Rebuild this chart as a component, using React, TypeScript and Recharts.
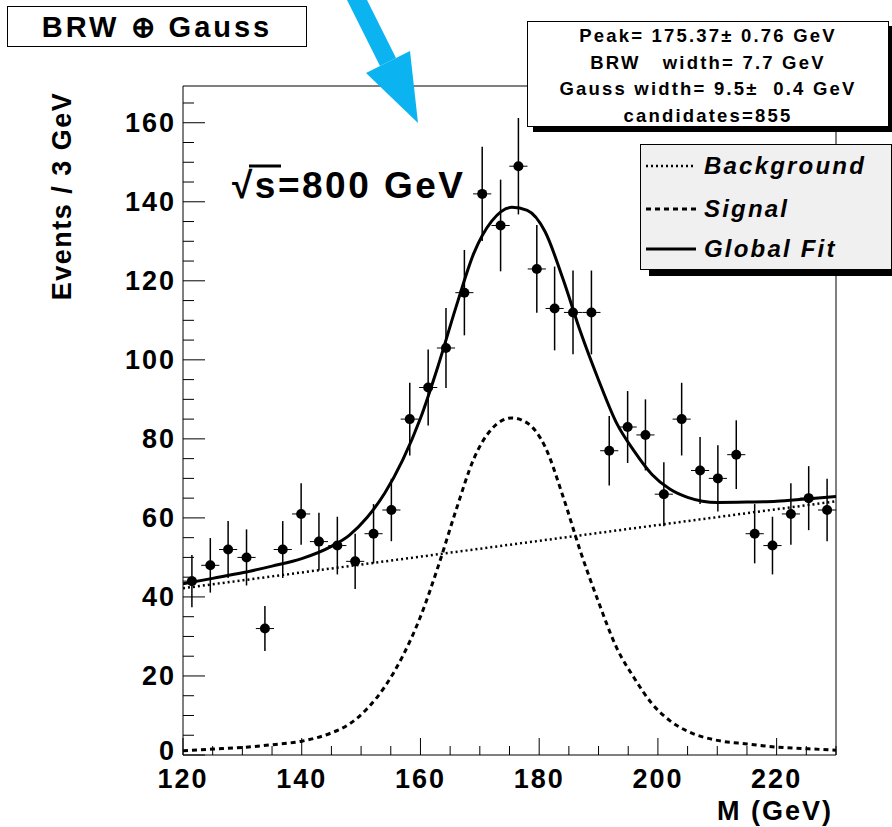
import React from "react";
import { ComposedChart, Line, Scatter, ErrorBar, XAxis, YAxis, ReferenceArea } from "recharts";

// 3 GeV-ish bins (36 bins over 120–230), centres in GeV
const MASS = [
  121.5, 124.6, 127.6, 130.7, 133.8, 136.8, 139.9, 142.9, 146.0, 149.0, 152.1, 155.1,
  158.2, 161.3, 164.3, 167.4, 170.4, 173.5, 176.5, 179.6, 182.6, 185.7, 188.8, 191.8,
  194.9, 197.9, 201.0, 204.0, 207.1, 210.1, 213.2, 216.3, 219.3, 222.4, 225.4, 228.5,
];
const COUNTS = [
  44, 48, 52, 50, 32, 52, 61, 54, 53, 49, 56, 62,
  85, 93, 103, 117, 142, 134, 149, 123, 113, 112, 112, 77,
  83, 81, 66, 85, 72, 70, 76, 56, 53, 61, 65, 62,
];
const COUNT_ERR = [
  6.6, 6.9, 7.2, 7.1, 5.7, 7.2, 7.8, 7.3, 7.3, 7.0, 7.5, 7.9,
  9.2, 9.6, 10.1, 10.8, 11.9, 11.6, 12.2, 11.1, 10.6, 10.6, 10.6, 8.8,
  9.1, 9.0, 8.1, 9.2, 8.5, 8.4, 8.7, 7.5, 7.3, 7.8, 8.1, 7.9,
];
const HALF_BIN = 1.53;

// fit curves sampled along M
const FIT_MASS = [
  120, 125, 130, 135, 140, 145, 148, 151, 154, 157, 160, 163, 166, 169, 172, 175.4,
  178, 181, 184, 187, 190, 193, 196, 199, 202, 205, 210, 215, 220, 225, 230,
];
const SIGNAL = [
  1.1, 1.5, 1.9, 2.6, 3.5, 5.6, 7.8, 11.7, 17.3, 25, 35, 47.8, 62, 75, 82.5, 85.3,
  84, 78, 65.5, 51.3, 38.7, 27.3, 19.5, 13, 8.7, 6, 3.7, 2.8, 2.0, 1.6, 1.2,
];
const GLOBAL_FIT = [
  43.3, 44.7, 46.1, 47.8, 49.7, 52.8, 55.6, 60.1, 66.3, 74.6, 85.2, 98.6, 113.4, 127, 135.1, 138.6,
  137.8, 132.4, 120.5, 106.9, 94.9, 84.1, 76.9, 71, 67.3, 65.2, 63.9, 64, 64.2, 64.8, 65.4,
];
const BKG_MASS = [120, 230];
const BKG = [42.2, 64.2];

const X_TICKS = [120, 125, 130, 135, 140, 145, 150, 155, 160, 165, 170, 175, 180, 185, 190, 195, 200, 205, 210, 215, 220, 225, 230];
const Y_TICKS = [0, 5, 10, 15, 20, 25, 30, 35, 40, 45, 50, 55, 60, 65, 70, 75, 80, 85, 90, 95, 100, 105, 110, 115, 120, 125, 130, 135, 140, 145, 150, 155, 160, 165];
const Y_MAX = 169.3;

const FONT = "'Liberation Sans', Arial, Helvetica, sans-serif";

const points = MASS.map((m, i) => ({ m, n: COUNTS[i], ey: COUNT_ERR[i], ex: HALF_BIN }));
const signalData = FIT_MASS.map((m, i) => ({ m, v: SIGNAL[i] }));
const globalData = FIT_MASS.map((m, i) => ({ m, v: GLOBAL_FIT[i] }));
const bkgData = BKG_MASS.map((m, i) => ({ m, v: BKG[i] }));

const DOTTED = "2 3";
const DASHED = "5 4";

function YTick(props: any) {
  const { x, y, payload } = props;
  const major = payload.value % 20 === 0;
  // the zero label sits a bit higher so it clears the first M label
  const ly = payload.value === 0 ? y - 4 : y;
  return (
    <g>
      <line x1={x} x2={x + (major ? 22 : 11)} y1={y} y2={y} stroke="#000" strokeWidth={1} />
      {major && (
        <text x={x - 7} y={ly} textAnchor="end" dominantBaseline="central" fontFamily={FONT} fontWeight="bold" fontSize={27} letterSpacing={2} fill="#000">
          {payload.value}
        </text>
      )}
    </g>
  );
}

function XTick(props: any) {
  const { x, y, payload } = props;
  const major = payload.value % 20 === 0;
  return (
    <g>
      <line x1={x} x2={x} y1={y} y2={y - (major ? 17 : 9)} stroke="#000" strokeWidth={1} />
      {major && (
        <text x={x} y={y + 24} textAnchor="middle" dominantBaseline="central" fontFamily={FONT} fontWeight="bold" fontSize={27} letterSpacing={2} fill="#000">
          {payload.value}
        </text>
      )}
    </g>
  );
}

function Dot(props: any) {
  return <circle cx={props.cx} cy={props.cy} r={5} fill="#000" />;
}

const legendItems = [
  { label: "Background", dash: DOTTED, width: 2.5 },
  { label: "Signal", dash: DASHED, width: 3 },
  { label: "Global Fit", dash: undefined, width: 3 },
];

export default function App() {
  return (
    <div style={{ position: "relative", width: 892, height: 827, background: "#fff", overflow: "hidden" }}>
      <style>{"body{margin:0}"}</style>
      <ComposedChart width={892} height={827} margin={{ top: 86, right: 56, bottom: 0, left: 0 }}>
        <XAxis
          dataKey="m"
          type="number"
          domain={[120, 230]}
          ticks={X_TICKS}
          interval={0}
          height={72}
          tickSize={0}
          tickMargin={0}
          tickLine={false}
          axisLine={false}
          tick={<XTick />}
          allowDataOverflow
        />
        <YAxis
          type="number"
          domain={[0, Y_MAX]}
          ticks={Y_TICKS}
          interval={0}
          width={183}
          tickSize={0}
          tickMargin={0}
          tickLine={false}
          axisLine={false}
          tick={<YTick />}
          allowDataOverflow
        />
        <ReferenceArea x1={120} x2={230} y1={0} y2={Y_MAX} fill="none" stroke="#000" strokeWidth={1} />
        <Line data={bkgData} dataKey="v" type="linear" stroke="#000" strokeWidth={2.5} strokeDasharray={DOTTED} dot={false} isAnimationActive={false} />
        <Line data={signalData} dataKey="v" type="monotone" stroke="#000" strokeWidth={3} strokeDasharray={DASHED} dot={false} isAnimationActive={false} />
        <Line data={globalData} dataKey="v" type="monotone" stroke="#000" strokeWidth={3} dot={false} isAnimationActive={false} />
        <Scatter data={points} dataKey="n" shape={<Dot />} isAnimationActive={false}>
          <ErrorBar dataKey="ey" direction="y" width={0} stroke="#000" strokeWidth={1.5} isAnimationActive={false} />
          <ErrorBar dataKey="ex" direction="x" width={0} stroke="#000" strokeWidth={1} isAnimationActive={false} />
        </Scatter>
      </ComposedChart>

      <svg width={892} height={827} style={{ position: "absolute", left: 0, top: 0, pointerEvents: "none" }}>
        {/* pointer arrow */}
        <polygon points="344,-6 360,-14 396,58 380,66" fill="#0bb4f0" />
        <polygon points="366,73 410,51 418,123" fill="#0bb4f0" />
        <text transform="translate(62,196) rotate(-90)" textAnchor="middle" dominantBaseline="central" fontFamily={FONT} fontWeight="bold" fontSize={27} letterSpacing={1.5} fill="#000">
          Events / 3 GeV
        </text>
        <text x={833} y={811} textAnchor="end" dominantBaseline="central" fontFamily={FONT} fontWeight="bold" fontSize={27} letterSpacing={2} fill="#000">
          M (GeV)
        </text>
        <text x={232} y={198} fontFamily={FONT} fontWeight="bold" fontSize={37} letterSpacing={2.5} fill="#000">
          √s=800 GeV
        </text>
        <line x1={249} x2={281} y1={166} y2={166} stroke="#000" strokeWidth={3} />
      </svg>

      <div style={{ position: "absolute", left: 7, top: 6, width: 298, height: 39, border: "1px solid #000", background: "#fff", display: "flex", alignItems: "center", justifyContent: "center", fontFamily: FONT, fontWeight: "bold", fontSize: 29, letterSpacing: 3 }}>
        BRW ⊕ Gauss
      </div>

      <div style={{ position: "absolute", left: 527, top: 21, width: 360, height: 103, border: "1px solid #000", background: "#fff", boxShadow: "6px 5px 0 #000", fontFamily: FONT, fontWeight: "bold", fontSize: 18.5, letterSpacing: 2.2, textAlign: "center", lineHeight: "26.5px", paddingTop: 1 }}>
        <div>Peak= 175.37± 0.76 GeV</div>
        <div style={{ whiteSpace: "pre" }}>BRW   width= 7.7 GeV</div>
        <div style={{ whiteSpace: "pre" }}>Gauss width= 9.5±  0.4 GeV</div>
        <div>candidates=855</div>
      </div>

      <div style={{ position: "absolute", left: 640, top: 144, width: 250, height: 124, border: "1px solid #000", background: "#f0f0f0", boxShadow: "9px 6px 0 #000" }}>
        {legendItems.map((it, i) => (
          <div key={it.label} style={{ position: "absolute", left: 0, top: [21, 64, 104][i] - 16, height: 32, display: "flex", alignItems: "center" }}>
            <svg width={60} height={32}>
              <line x1={5} x2={55} y1={16} y2={16} stroke="#000" strokeWidth={it.width} strokeDasharray={it.dash} />
            </svg>
            <span style={{ marginLeft: 3, fontFamily: FONT, fontWeight: "bold", fontStyle: "italic", fontSize: 24, letterSpacing: 2.2 }}>{it.label}</span>
          </div>
        ))}
      </div>
    </div>
  );
}
